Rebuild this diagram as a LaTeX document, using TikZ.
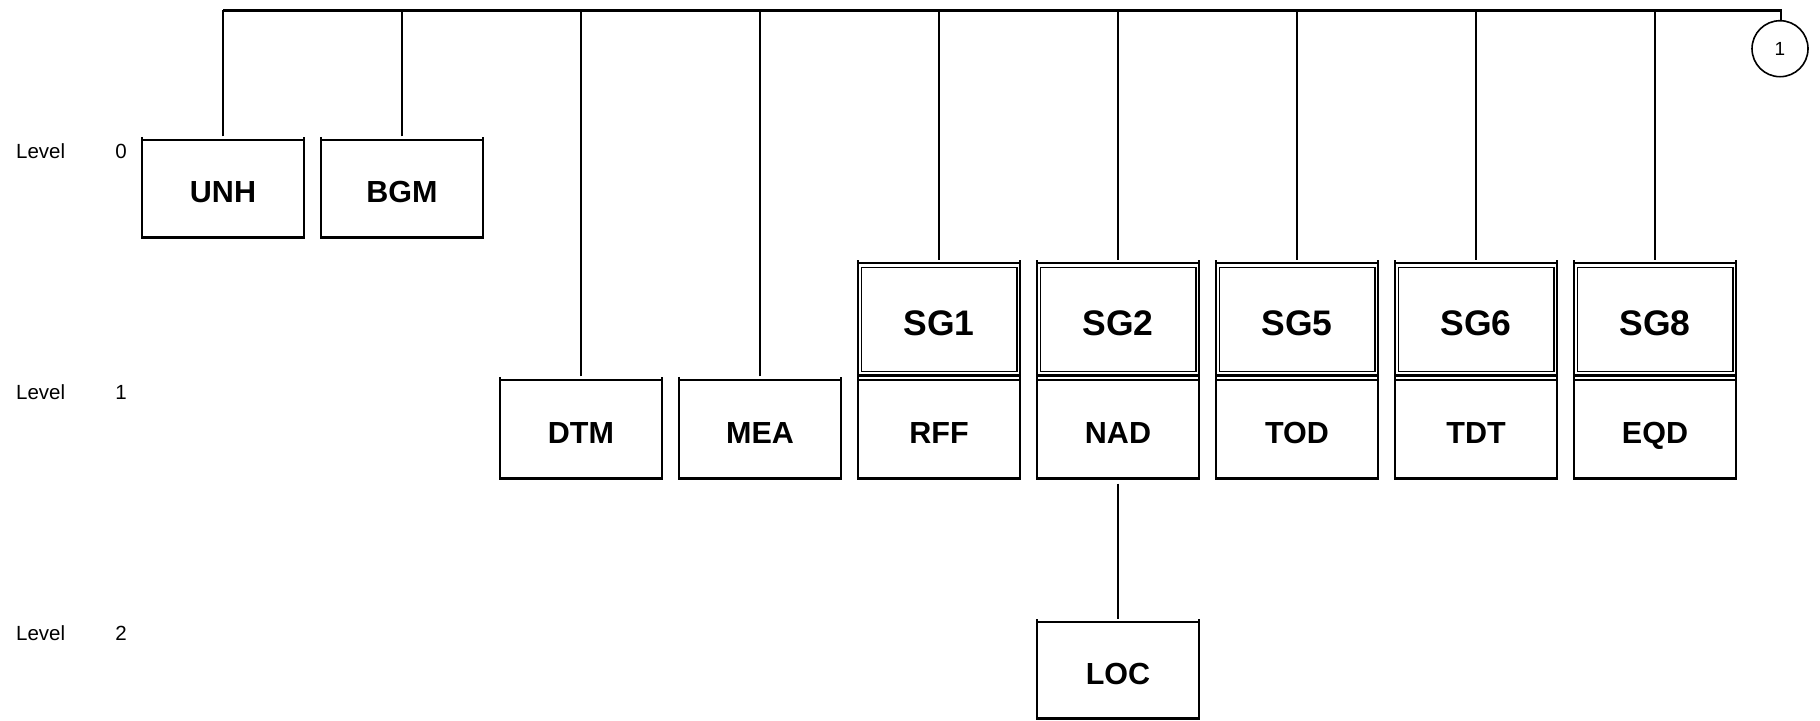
\documentclass[tikz,border=0pt]{standalone}
\usepackage{fontspec}
\setmainfont{Liberation Sans}
\newcommand\lvlfont{\fontsize{20.5}{24}\selectfont}
\newcommand\bxfont{\fontsize{30.5}{34}\selectfont\bfseries}
\newcommand\sgfont{\fontsize{35.5}{40}\selectfont\bfseries}
\tikzset{
  lbl/.style={draw=none, inner sep=0pt, font=\bxfont, text height=28pt, text depth=0pt},
  sglbl/.style={draw=none, inner sep=0pt, font=\sgfont, text height=32pt, text depth=0pt},
  boxline/.style={line width=2.3pt, black},
  innerline/.style={line width=1.6pt, black},
  conn/.style={line width=2.3pt, black},
  lvl/.style={inner sep=0pt, font=\lvlfont}
}
\newcommand\obox[5]{%
  \node[lbl, minimum width=162pt, minimum height=#4pt] (#1) at (#2,#3) {#5};
  \draw[boxline] ([yshift=3pt]#1.north west) -- (#1.south west) -- (#1.south east) -- ([yshift=3pt]#1.north east);
  \draw[boxline] (#1.north west) -- (#1.north east);}
\newcommand\dbox[4]{%
  \node[sglbl, minimum width=162pt, minimum height=112pt] (#1) at (#2,#3) {#4};
  \draw[boxline] ([yshift=3pt]#1.north west) -- (#1.south west) -- (#1.south east) -- ([yshift=3pt]#1.north east);
  \draw[boxline] (#1.north west) -- (#1.north east);
  \draw[innerline] ([shift={(3.5pt,-4.5pt)}]#1.north west) rectangle ([shift={(-3.5pt,4pt)}]#1.south east);}
\begin{document}
\begin{tikzpicture}[x=1pt,y=-1pt]
\useasboundingbox (0,0) rectangle (1820,720);
% level labels
\node[lvl, anchor=west] (lv0) at (16,151.3) {Level};
\node[lvl] (n0) at (121,151.3) {0};
\node[lvl, anchor=west] (lv1) at (16,392.3) {Level};
\node[lvl] (n1) at (121,392.3) {1};
\node[lvl, anchor=west] (lv2) at (16,633.3) {Level};
\node[lvl] (n2) at (121,633.3) {2};
% level 0
\obox{unh}{223}{188.7}{97.3}{UNH}
\obox{bgm}{402}{188.7}{97.3}{BGM}
% level 1
\obox{dtm}{581}{429.2}{98.3}{DTM}
\obox{mea}{760}{429.2}{98.3}{MEA}
\obox{rff}{939}{429.2}{98.3}{RFF}
\obox{nad}{1118}{429.2}{98.3}{NAD}
\obox{tod}{1297}{429.2}{98.3}{TOD}
\obox{tdt}{1476}{429.2}{98.3}{TDT}
\obox{eqd}{1655}{429.2}{98.3}{EQD}
\dbox{sga}{939}{319.2}{SG1}
\dbox{sgb}{1118}{319.2}{SG2}
\dbox{sgc}{1297}{319.2}{SG5}
\dbox{sgd}{1476}{319.2}{SG6}
\dbox{sge}{1655}{319.2}{SG8}
% level 2
\obox{loc}{1118}{670.3}{96}{LOC}
% off-page connector
\node[circle, draw, line width=1.6pt, minimum size=56pt, inner sep=0pt, font=\fontsize{19}{22}\selectfont] (c1) at (1780,48.7) {1};
% bus
\coordinate (busL) at (223,10.4);
\coordinate (busR) at (1781,10.4);
\draw[conn] (busL) -- (busR) -- (busR |- c1.north);
\foreach \n in {unh,bgm,dtm,mea,sga,sgb,sgc,sgd,sge}{
  \draw[conn] ([yshift=3.5pt]\n.north) -- (\n.north |- busL);
}
\draw[conn] ([yshift=-5pt]nad.south) -- ([yshift=3pt]loc.north);
\end{tikzpicture}
\end{document}
